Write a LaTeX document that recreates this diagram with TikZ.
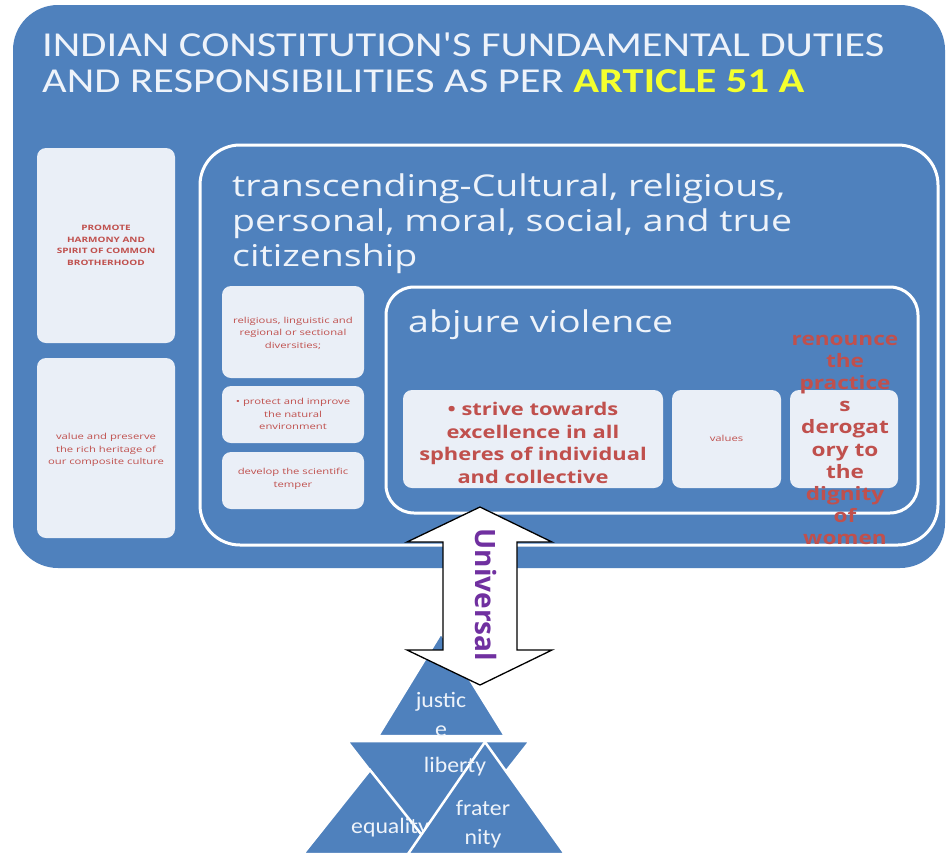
\documentclass[tikz,border=0pt]{standalone}
\usepackage{fontspec}
\setmainfont{Carlito}
\newfontfamily\osans{Open Sans}
\newfontfamily\osw{Open Sans}[FakeStretch=1.25]
\newfontfamily\osws{Open Sans}[FakeStretch=1.22]
\newfontfamily\oswt{Open Sans}[FakeStretch=1.36]
\newfontfamily\oswb{Open Sans}[FakeStretch=1.35]
\newfontfamily\calw{Carlito}[FakeStretch=1.215]
\newfontfamily\calt{Carlito}[FakeStretch=1.08]
\definecolor{mainblue}{HTML}{4F81BD}
\definecolor{lightbox}{HTML}{EAEFF7}
\definecolor{redtxt}{HTML}{C0504D}
\definecolor{paletxt}{HTML}{EEF3FA}
\definecolor{ylw}{HTML}{F4FF2E}
\definecolor{purp}{HTML}{7030A0}
\tikzset{
  lbox/.style={fill=lightbox, draw=none, rounded corners=9pt, inner sep=2pt},
  tinytxt/.style={text=redtxt, font=\oswt\fontsize{8.3}{12.5}\selectfont, align=center, inner sep=0pt},
  whiteframe/.style={draw=white, line width=3pt},
  tri/.style={fill=mainblue, draw=white, line width=2.5pt, line join=miter},
  trilabel/.style={text=paletxt, font=\calt\fontsize{22}{29}\selectfont, align=center, inner sep=0pt},
  bigtxt/.style={text=paletxt, font=\osw\fontsize{30}{35}\selectfont, anchor=base west, inner sep=0pt},
  titletxt/.style={text=paletxt, font=\calw\fontsize{35}{35}\selectfont, anchor=base west, inner sep=0pt},
  redbold/.style={text=redtxt, font=\osw\bfseries\fontsize{17.5}{22.5}\selectfont, align=center, inner sep=0pt}
}
\begin{document}
\begin{tikzpicture}[x=1pt,y=-1pt]
\useasboundingbox[fill=white] (0,0) rectangle (948,852);
% main blue panel
\node[fill=mainblue, rounded corners=45pt, minimum width=932pt, minimum height=563pt, inner sep=0pt] (panel) at (479,286.5) {};
% title
\node[titletxt] (t1) at (42,56) {INDIAN CONSTITUTION'S FUNDAMENTAL DUTIES};
\node[titletxt] (t2) at (42,92) {AND RESPONSIBILITIES AS PER \textcolor{ylw}{\bfseries ARTICLE 51 A}};
% left boxes
\node[lbox, minimum width=138pt, minimum height=195pt] (b1) at (106,245.5) {};
\node[tinytxt, font=\oswb\bfseries\fontsize{7.4}{11.5}\selectfont] (b1t) at (b1.center) {PROMOTE\\HARMONY AND\\SPIRIT OF COMMON\\BROTHERHOOD};
\node[lbox, minimum width=138pt, minimum height=180pt] (b2) at (106,448) {};
\node[tinytxt] (b2t) at (106,450) {value and preserve\\the rich heritage of\\our composite culture};
% outer white frame
\node[whiteframe, rounded corners=40pt, minimum width=738pt, minimum height=400pt, inner sep=0pt] (frame1) at (569,345) {};
\node[bigtxt] (tr1) at (232,196) {transcending-Cultural, religious,};
\node[bigtxt] (tr2) at (232,231) {personal, moral, social, and true};
\node[bigtxt] (tr3) at (232,266) {citizenship};
% middle column boxes
\node[lbox, minimum width=142pt, minimum height=92pt] (ma) at (293,332) {};
\node[tinytxt] (mat) at (293,333) {religious, linguistic and\\regional or sectional\\diversities;};
\node[lbox, minimum width=142pt, minimum height=57pt] (mb) at (293,414.5) {};
\node[tinytxt] (mbt) at (293,414) {• protect and improve\\the natural\\environment};
\node[lbox, minimum width=142pt, minimum height=57pt] (mc) at (293,480.5) {};
\node[tinytxt] (mct) at (293,479) {develop the scientific\\temper};
% inner white frame
\node[whiteframe, rounded corners=28pt, minimum width=532pt, minimum height=226pt, inner sep=0pt] (frame2) at (652,400) {};
\node[bigtxt] (abj) at (408,332) {abjure violence};
% inner boxes
\node[lbox, minimum width=260pt, minimum height=98pt] (s1) at (533,439) {};
\node[redbold] (s1t) at (533,443) {• strive towards\\excellence in all\\spheres of individual\\and collective};
\node[lbox, minimum width=109pt, minimum height=98pt] (s2) at (726.5,439) {};
\node[tinytxt] (s2t) at (726.5,438) {values};
\node[lbox, minimum width=108pt, minimum height=98pt] (s3) at (844,439) {};
\node[redbold, font=\osws\bfseries\fontsize{18.5}{22.2}\selectfont] (s3t) at (845,440) {renounce\\the\\practice\\s\\derogat\\ory to\\the\\dignity\\of\\women};
% triangles
\path[tri] (378,736) -- (441,633) -- (505,736) -- cycle;
\path[tri] (347,741) -- (530,741) -- (438,858) -- cycle;
\path[tri] (303,854) -- (370,770) -- (437,854) -- cycle;
\node[trilabel, anchor=west] (eq) at (351,828) {equality};
\path[tri] (408,854) -- (485,742) -- (565,854) -- cycle;
\node[trilabel] (ju) at (441,714) {justic\\e};
\node[trilabel] (li) at (455,767) {liberty};
\node[trilabel] (fr) at (483,824) {frater\\nity};
% double arrow
\path[draw=black, line width=1.3pt, fill=white, line join=miter]
  (480,507) -- (552,542) -- (517,542) -- (517,650) -- (552,650) -- (480,685)
  -- (407,650) -- (443,650) -- (443,542) -- (407,542) -- cycle;
\node[text=purp, font=\osans\bfseries\fontsize{28}{34}\selectfont, rotate=-90, inner sep=0pt] (uni) at (486,595) {Universal};
\end{tikzpicture}
\end{document}
